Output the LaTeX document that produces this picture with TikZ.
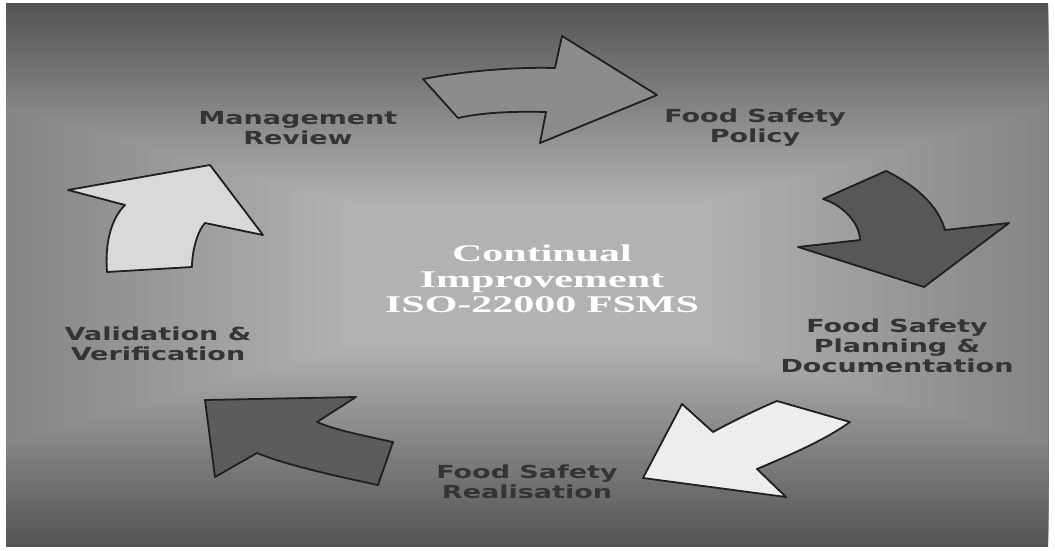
\documentclass[tikz,border=0pt]{standalone}
\usepackage{fontspec}
\newfontfamily\labfont[FakeStretch=1.5]{DejaVu Sans}
\newfontfamily\cenfont[FakeStretch=1.75]{Liberation Serif}
\definecolor{labgray}{HTML}{343434}
\tikzset{
  arr/.style={draw=black!88, line width=1.8pt, line join=round},
  lab/.style={font=\labfont\bfseries\fontsize{18}{20}\selectfont, text=labgray, align=center, inner sep=0pt},
  cen/.style={font=\cenfont\bfseries\fontsize{24}{25.5}\selectfont, text=white, align=center, inner sep=0pt}
}
\begin{document}
\begin{tikzpicture}[x=1pt,y=-1pt]
\useasboundingbox (0,0) rectangle (1055,550);
\fill[white] (0,0) rectangle (1055,550);
% background gradient
\begin{scope}
\clip (6,3) rectangle (1048,547);
\foreach \i in {0,...,60}{
  \pgfmathsetmacro{\hw}{900-(\i/60)*725}
  \pgfmathsetmacro{\hh}{272-(\i/60)*202}
  \pgfmathsetmacro{\pc}{67-(\i/60)*37}
  \fill[black!\pc!white] (527-\hw,275-\hh) rectangle (527+\hw,275+\hh);
}
\end{scope}
% arrow 1 (top, right-pointing)
\draw[arr, fill=black!45] (423,79) .. controls (470,70) and (520,67) .. (555,68)
  -- (562,36) -- (657,95) -- (540,143) -- (546,112)
  .. controls (510,111) and (480,113) .. (458,118) -- cycle;
% arrow 2 (right, down-right)
\draw[arr, fill=black!66] (823,199) -- (886,171) .. controls (915,185) and (938,205) .. (945,230)
  -- (1009,223) -- (924,287) -- (798,247) -- (860,240)
  .. controls (860,225) and (845,206) .. cycle;
% arrow 3 (bottom right, down-left)
\draw[arr, fill=black!7] (682,404) -- (713,432) .. controls (735,420) and (760,408) .. (777,401)
  -- (850,422) .. controls (825,440) and (790,455) .. (757,469)
  -- (786,497) -- (643,478) -- cycle;
% arrow 4 (bottom left, up-left)
\draw[arr, fill=black!64] (205,400) -- (356,397) -- (317,422)
  .. controls (335,430) and (365,436) .. (393,442) -- (378,485)
  .. controls (345,478) and (285,465) .. (257,453) -- (215,477) -- cycle;
% arrow 5 (left, up-right)
\draw[arr, fill=black!15] (68,190) -- (210,165) -- (263,235) -- (205,223)
  .. controls (198,230) and (192,250) .. (192,267) -- (107,272)
  .. controls (105,245) and (110,220) .. (125,205) -- cycle;
% labels
\node[lab] (mr) at (298,128) {Management\\Review};
\node[lab] (fsp) at (755,128) {Food Safety\\Policy};
\node[lab] (fspd) at (897,346) {Food Safety\\Planning \&\\Documentation};
\node[lab] (fsr) at (527,482) {Food Safety\\Realisation};
\node[lab] (vv) at (158,344) {Validation \&\\Verification};
\node[cen] (ci) at (542,279) {Continual\\Improvement\\ISO-22000 FSMS};
\end{tikzpicture}
\end{document}
